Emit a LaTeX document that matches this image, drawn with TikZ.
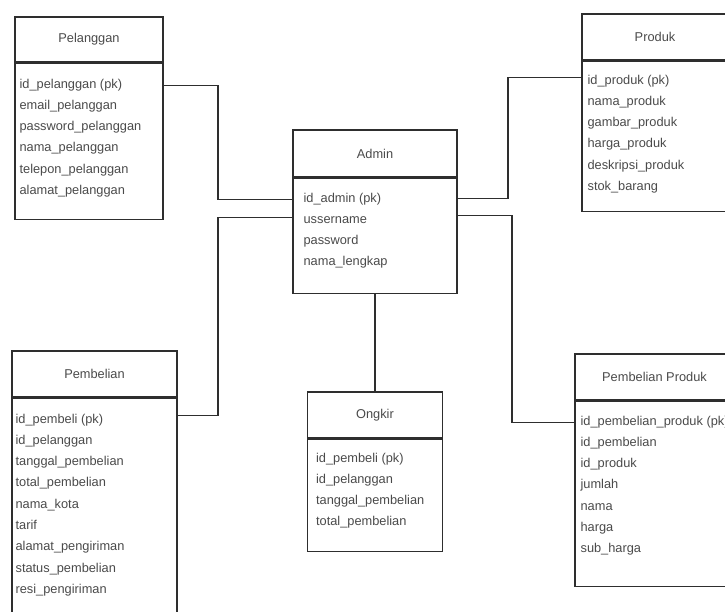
\documentclass[tikz,border=0pt]{standalone}
\usepackage{fontspec}
\setmainfont{Liberation Sans}
\usepackage{xcolor}
\usepackage{tikz}
\usetikzlibrary{calc,positioning}

\definecolor{txtgray}{HTML}{4A4A4A}
\definecolor{linegray}{HTML}{2E2E2E}

\tikzset{
    tabletitle/.style={draw=linegray, line width=1.2pt, inner sep=0pt,
        font=\fontsize{12.8}{15}\selectfont, text=txtgray},
    tablebody/.style={draw=linegray, line width=1.2pt, inner sep=0pt},
    attrlist/.style={anchor=north west, align=left, inner sep=0pt,
        font=\fontsize{12.8}{21.3}\selectfont, text=txtgray},
    link/.style={draw=linegray, line width=1.2pt}
}

\begin{document}
\begin{tikzpicture}[x=1pt, y=-1pt]

    \useasboundingbox (0,0) rectangle (725,612);
    \clip (0,0) rectangle (725,612);

    % Pelanggan
    \node[tabletitle, minimum width=148pt, minimum height=45pt] (pelangganTitle) at (89,39.5) {Pelanggan};
    \node[tablebody, minimum width=148pt, minimum height=156pt, below=0pt of pelangganTitle] (pelangganBody) {};
    \node[attrlist] (pelangganAttr) at ([xshift=5pt, yshift=-16pt]pelangganBody.north west)
      {id\_pelanggan (pk)\\ email\_pelanggan\\ password\_pelanggan\\ nama\_pelanggan\\ telepon\_pelanggan\\ alamat\_pelanggan};

    % Admin
    \node[tabletitle, minimum width=164pt, minimum height=47pt] (adminTitle) at (375,153.5) {Admin};
    \node[tablebody, minimum width=164pt, minimum height=115pt, below=0pt of adminTitle] (adminBody) {};
    \node[attrlist] (adminAttr) at ([xshift=11pt, yshift=-15pt]adminBody.north west)
      {id\_admin (pk)\\ ussername\\ password\\ nama\_lengkap};

    % Produk
    \node[tabletitle, minimum width=146pt, minimum height=46pt] (produkTitle) at (655,37) {Produk};
    \node[tablebody, minimum width=146pt, minimum height=150pt, below=0pt of produkTitle] (produkBody) {};
    \node[attrlist] (produkAttr) at ([xshift=6pt, yshift=-14pt]produkBody.north west)
      {id\_produk (pk)\\ nama\_produk\\ gambar\_produk\\ harga\_produk\\ deskripsi\_produk\\ stok\_barang};

    % Pembelian
    \node[tabletitle, minimum width=165pt, minimum height=46pt] (pembelianTitle) at (94.5,374) {Pembelian};
    \node[tablebody, minimum width=165pt, minimum height=240pt, below=0pt of pembelianTitle] (pembelianBody) {};
    \node[attrlist] (pembelianAttr) at ([xshift=4pt, yshift=-16pt]pembelianBody.north west)
      {id\_pembeli (pk)\\ id\_pelanggan\\ tanggal\_pembelian\\ total\_pembelian\\ nama\_kota\\ tarif\\ alamat\_pengiriman\\ status\_pembelian\\ resi\_pengiriman};

    % Ongkir
    \node[tabletitle, minimum width=135pt, minimum height=46pt] (ongkirTitle) at (375,415) {Ongkir};
    \node[tablebody, minimum width=135pt, minimum height=112pt, below=0pt of ongkirTitle] (ongkirBody) {};
    \node[attrlist] (ongkirAttr) at ([xshift=9pt, yshift=-14pt]ongkirBody.north west)
      {id\_pembeli (pk)\\ id\_pelanggan\\ tanggal\_pembelian\\ total\_pembelian};

    % Pembelian Produk
    \node[tabletitle, minimum width=159pt, minimum height=46pt] (pbpTitle) at (654.5,377) {Pembelian Produk};
    \node[tablebody, minimum width=159pt, minimum height=185pt, below=0pt of pbpTitle] (pbpBody) {};
    \node[attrlist] (pbpAttr) at ([xshift=6pt, yshift=-15pt]pbpBody.north west)
      {id\_pembelian\_produk (pk)\\ id\_pembelian\\ id\_produk\\ jumlah\\ nama\\ harga\\ sub\_harga};

    % Ports
    \coordinate (lbus) at (218,0);
    \coordinate (rbusA) at (508,0);
    \coordinate (rbusB) at (512,0);
    \coordinate (adminL1) at ([yshift=-22pt]adminBody.north west);
    \coordinate (adminL2) at ([yshift=-40pt]adminBody.north west);
    \coordinate (adminR1) at ([yshift=-21pt]adminBody.north east);
    \coordinate (adminR2) at ([yshift=-38pt]adminBody.north east);
    \coordinate (pelangganP) at ([yshift=-23pt]pelangganBody.north east);
    \coordinate (pembelianP) at ([yshift=-18pt]pembelianBody.north east);
    \coordinate (produkP) at ([yshift=-17pt]produkBody.north west);
    \coordinate (pbpP) at ([yshift=-22pt]pbpBody.north west);

    % Relasi
    \draw[link] (pelangganP) -| (lbus |- adminL1) -- (adminL1);
    \draw[link] (adminL2) -- (lbus |- adminL2) |- (pembelianP);
    \draw[link] (adminR1) -- (rbusA |- adminR1) |- (produkP);
    \draw[link] (adminR2) -- (rbusB |- adminR2) |- (pbpP);
    \draw[link] (adminBody.south) -- (ongkirTitle.north);

\end{tikzpicture}
\end{document}
